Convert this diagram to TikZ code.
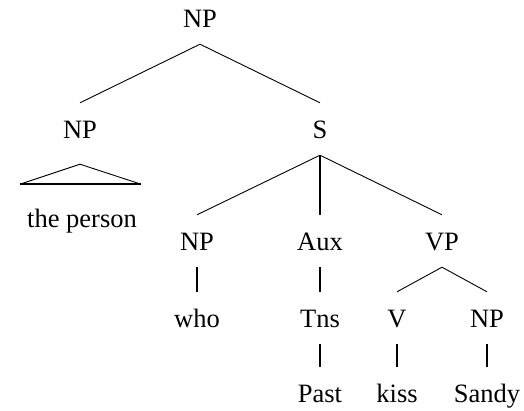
\documentclass[tikz,border=0pt]{standalone}
\usepackage{fontspec}
\setmainfont{Liberation Serif}
\usepackage{tikz}
\usetikzlibrary{calc}
\tikzset{
  cat/.style={
    anchor=base, inner xsep=2pt, inner ysep=17pt,
    text height=18pt, text depth=0pt,
    font=\fontsize{26.5}{30}\selectfont,
  },
  branch/.style={line width=0.9pt, black},
  unary/.style={line width=2pt, black},
}

\begin{document}
\begin{tikzpicture}[x=1pt, y=-1pt]

  \useasboundingbox (0,0) rectangle (524,410);

  \node[cat] (root) at (200,27) {NP};
  \node[cat] (np) at (80,138) {NP};
  \node[cat] (s) at (320,138) {S};
  \node[cat] (person) at (82,227) {the person};
  \node[cat] (subj) at (197,250) {NP};
  \node[cat] (aux) at (320,250) {Aux};
  \node[cat] (vp) at (442,250) {VP};
  \node[cat] (who) at (197,327) {who};
  \node[cat] (tns) at (320,327) {Tns};
  \node[cat] (v) at (397,327) {V};
  \node[cat] (obj) at (487,327) {NP};
  \node[cat] (past) at (320,402) {Past};
  \node[cat] (kiss) at (397,402) {kiss};
  \node[cat] (sandy) at (487,402) {Sandy};

  \draw[branch] (root.south) -- (np.north);
  \draw[branch] (root.south) -- (s.north);

  % roof over the unanalysed NP
  \coordinate (apex) at ($(np.south)+(0,9)$);
  \coordinate (roofl) at ($(apex)+(-60,20)$);
  \coordinate (roofr) at ($(apex)+(61,20)$);
  \draw[branch] (roofl) -- (apex) -- (roofr);
  \draw[unary] (roofl) -- (roofr);

  \draw[branch] (s.south) -- (subj.north);
  \draw[unary] (s.south) -- (aux.north);
  \draw[branch] (s.south) -- (vp.north);

  \draw[unary] (subj.south) -- (who.north);
  \draw[unary] (aux.south) -- (tns.north);
  \draw[unary] (tns.south) -- (past.north);
  \draw[branch] (vp.south) -- (v.north);
  \draw[branch] (vp.south) -- (obj.north);
  \draw[unary] (v.south) -- (kiss.north);
  \draw[unary] (obj.south) -- (sandy.north);

\end{tikzpicture}
\end{document}
